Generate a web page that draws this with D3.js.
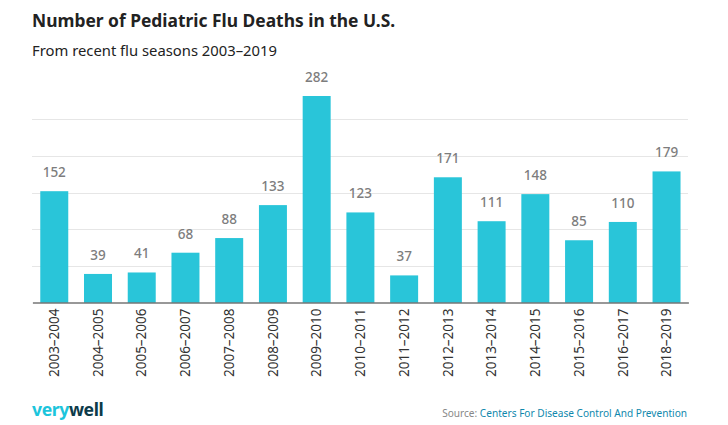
<!DOCTYPE html>
<html>
<head>
<meta charset="utf-8">
<script src="https://cdnjs.cloudflare.com/ajax/libs/d3/7.8.5/d3.min.js"></script>
<style>
  html, body { margin: 0; padding: 0; background: #fff; }
  svg { display: block; font-family: "Noto Sans", sans-serif; }
</style>
</head>
<body>
<svg id="chart" width="728" height="425"></svg>
<script>
var seasons = ['2003–2004', '2004–2005', '2005–2006', '2006–2007', '2007–2008',
  '2008–2009', '2009–2010', '2010–2011', '2011–2012', '2012–2013', '2013–2014',
  '2014–2015', '2015–2016', '2016–2017', '2018–2019'];
var deaths = [152, 39, 41, 68, 88, 133, 282, 123, 37, 171, 111, 148, 85, 110, 179];
var gridTicks = [50, 100, 150, 200, 250];

var svg = d3.select('#chart');
var baseline = 302.5;

var x = d3.scaleBand().domain(seasons).range([32.4, 688.4]).paddingInner(0.36).paddingOuter(0.18);
var y = d3.scaleLinear().domain([0, 282]).range([baseline, 96]);

svg.append('text').attr('x', 32).attr('y', 26.5)
  .attr('font-size', 17.4).attr('font-weight', 700).attr('fill', '#222')
  .text('Number of Pediatric Flu Deaths in the U.S.');

svg.append('text').attr('x', 32).attr('y', 56)
  .attr('font-size', 14.8).attr('fill', '#222')
  .text('From recent flu seasons 2003–2019');

// grid lines
svg.append('g').selectAll('line').data(gridTicks).enter().append('line')
  .attr('x1', 32).attr('x2', 688)
  .attr('y1', function (d) { return Math.round(y(d)) + 0.5; })
  .attr('y2', function (d) { return Math.round(y(d)) + 0.5; })
  .attr('stroke', '#e6e6e6');

svg.append('g').selectAll('rect').data(deaths).enter().append('rect')
  .attr('x', function (d, i) { return x(seasons[i]); })
  .attr('y', function (d) { return y(d); })
  .attr('width', x.bandwidth())
  .attr('height', function (d) { return baseline - y(d); })
  .attr('fill', '#29c5d9');

svg.append('g').selectAll('text').data(deaths).enter().append('text')
  .attr('x', function (d, i) { return x(seasons[i]) + x.bandwidth() / 2; })
  .attr('y', function (d) { return y(d) - 14; })
  .attr('text-anchor', 'middle')
  .attr('font-size', 13.5).attr('font-weight', 500).attr('fill', '#7d7d7d')
  .text(function (d) { return d; });

// x axis, labels rotated
var axis = svg.append('g').attr('transform', 'translate(0,' + baseline + ')')
  .call(d3.axisBottom(x).tickSize(0));
axis.select('.domain').attr('stroke', '#333').attr('stroke-width', 1.2);
axis.selectAll('text')
  .attr('font-family', '"Noto Sans", sans-serif')
  .attr('font-size', 13.5).attr('fill', '#333')
  .attr('text-anchor', 'end')
  .attr('transform', 'rotate(-90)')
  .attr('x', -6).attr('y', 0).attr('dy', '0.35em');

// logo and source
var logo = svg.append('text').attr('x', 32).attr('y', 416)
  .attr('font-size', 17.6).attr('font-weight', 700).attr('letter-spacing', -0.4);
logo.append('tspan').attr('fill', '#1cc5dc').text('very');
logo.append('tspan').attr('fill', '#0d3b4a').text('well');

var source = svg.append('text').attr('x', 687).attr('y', 416.5)
  .attr('text-anchor', 'end').attr('font-size', 10.1);
source.append('tspan').attr('fill', '#888').text('Source: ');
source.append('tspan').attr('fill', '#0f88ad').text('Centers For Disease Control And Prevention');
</script>
</body>
</html>
